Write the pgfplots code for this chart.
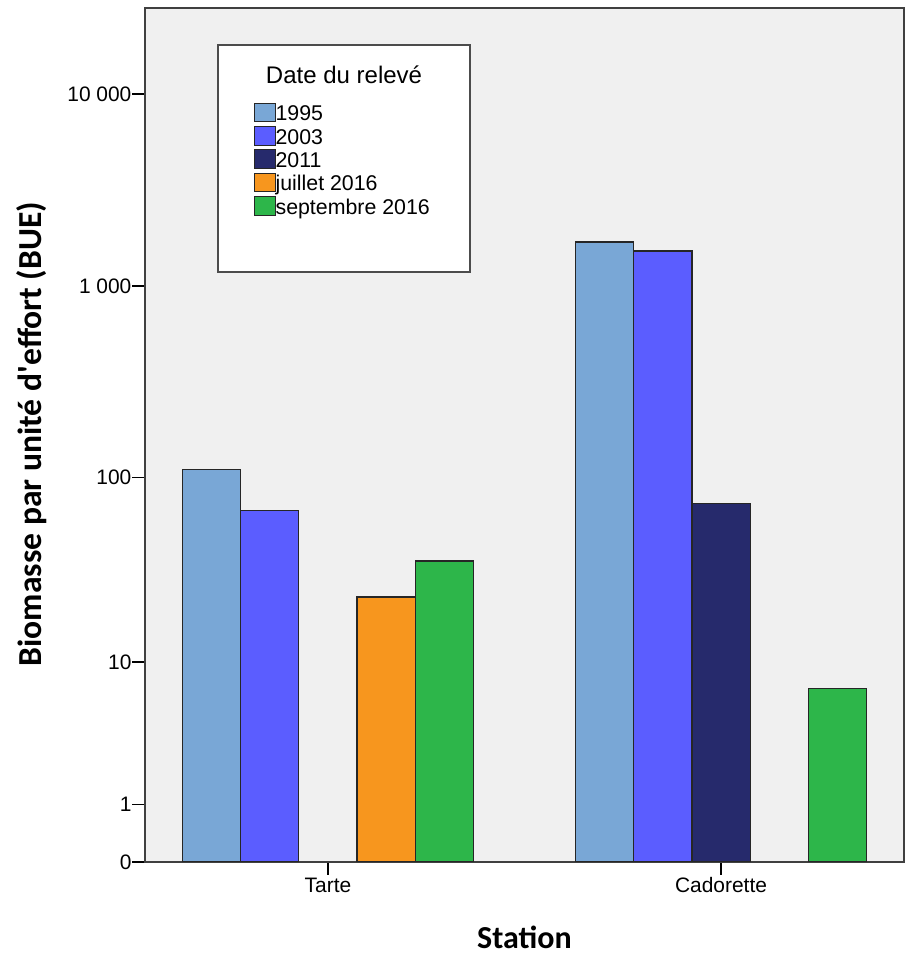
\documentclass[border=0pt]{standalone}
\usepackage{fontspec}
\setmainfont{Liberation Sans}
\newfontfamily\labfont{Carlito}
\usepackage{pgfplots}
\pgfplotsset{compat=1.18}
\definecolor{c95}{HTML}{79A7D6}
\definecolor{c03}{HTML}{5B5DFF}
\definecolor{c11}{HTML}{262A6C}
\definecolor{cjul}{HTML}{F7961E}
\definecolor{csep}{HTML}{2DB64A}
\definecolor{bg}{HTML}{F0F0F0}
\pgfplotsset{
  myleg/.style={legend image code/.code={\draw[##1,draw=black!85,line width=0.8pt,overlay] (0pt,-4.5pt) rectangle (16pt,9.5pt);\path[draw=none,fill=none] (0pt,0pt) rectangle (16pt,1pt);}},
  mybar/.style={draw=black!85, line width=0.9pt, myleg},
}
\begin{document}
\begin{tikzpicture}
\begin{axis}[
  width=569.25pt, height=640.5pt, scale only axis,
  ybar, bar width=0.1481,
  xmin=-0.4656, xmax=1.4656, ymin=0, ymax=28053,
  y coord trafo/.code={\begingroup\pgfkeys{/pgf/fpu=true,/pgf/fpu/output format=fixed}\pgfmathparse{log10(#1+1)}\pgfmathsmuggle\pgfmathresult\endgroup},
  y coord inv trafo/.code={\begingroup\pgfkeys{/pgf/fpu=true,/pgf/fpu/output format=fixed}\pgfmathparse{10^(#1)-1}\pgfmathsmuggle\pgfmathresult\endgroup},
  xtick={0,1}, xticklabels={Tarte,Cadorette},
  ytick={0,1,10,100,1000,10000}, yticklabels={0,1,10,100,{1 000},{10 000}},
  tick align=outside, major tick length=9.5pt, xtick pos=left, ytick pos=left,
  tick style={black, line width=0.9pt},
  ticklabel style={font=\fontsize{15.7}{18}\selectfont},
  yticklabel style={inner sep=0.5pt},
  xticklabel style={inner sep=2pt},
  axis background/.style={fill=bg},
  axis line style={line width=1pt, draw=black!75},
  xlabel={Station}, ylabel={Biomasse par unité d'effort (BUE)},
  label style={font=\labfont\bfseries\fontsize{25.2}{29}\selectfont},
  xlabel style={at={(axis description cs:0.5,-0.0878)}, anchor=center, font=\labfont\bfseries\fontsize{24}{28}\selectfont},
  ylabel style={at={(axis description cs:-0.149,0.501)}, anchor=center},
  legend style={at={(axis description cs:0.1436,0.8852)}, anchor=north west,
    draw=none, fill=none, inner sep=0pt, row sep=3pt,
    font=\fontsize{16}{18}\selectfont,
    nodes={inner sep=0pt, text height=11pt, text depth=3.5pt},
    /tikz/every even column/.append style={column sep=1.5pt}},
  legend cell align=left,
]
\coordinate (ll) at (rel axis cs:0,0);
\draw[fill=white, draw=black!70, line width=1.1pt] (axis description cs:0.0962,0.9567) rectangle (axis description cs:0.4282,0.6909);
\node[font=\fontsize{18}{21}\selectfont] at (axis description cs:0.2622,0.9215) {Date du relevé};
\addplot[mybar, fill=c95, bar shift=-0.2962] coordinates {(0,110) (1,1694)};
\addlegendentry{1995}
\addplot[mybar, fill=c03, bar shift=-0.1481] coordinates {(0,67) (1,1521)};
\addlegendentry{2003}
\addplot[mybar, fill=c11, bar shift=0] coordinates {(1,73)};
\addlegendentry{2011}
\addplot[mybar, fill=cjul, bar shift=0.1481] coordinates {(0,23)};
\addlegendentry{juillet 2016}
\addplot[mybar, fill=csep, bar shift=0.2962] coordinates {(0,36) (1,7)};
\addlegendentry{septembre 2016}
\end{axis}
\pgfresetboundingbox
\path[use as bounding box] (ll) ++(-108.75pt,-83.25pt) rectangle ++(682.5pt,729.75pt);
\end{tikzpicture}
\end{document}
